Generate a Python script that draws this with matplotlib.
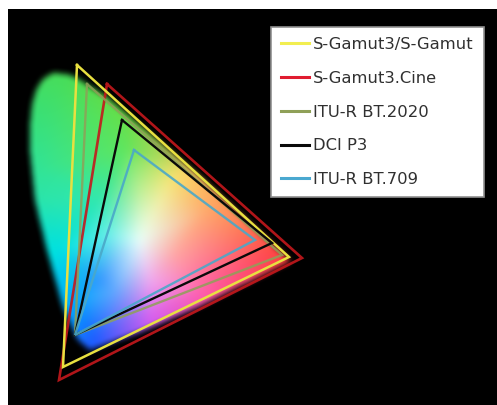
import numpy as np
import matplotlib
matplotlib.use('Agg')
import matplotlib.pyplot as plt
import matplotlib.tri as mtri
from matplotlib.path import Path

labels = ['S-Gamut3/S-Gamut', 'S-Gamut3.Cine', 'ITU-R BT.2020', 'DCI P3', 'ITU-R BT.709']
colors = ['#e8e040', '#c4181c', '#8fa058', '#0a0a0a', '#4aa8c8']
legend_colors = ['#f2ee50', '#e01c30', '#8fa058', '#0a0a0a', '#4aa8d0']
tri_x = [[77, 289, 63], [107, 302, 59], [87, 282, 75], [122, 272, 75], [134, 255, 75]]
tri_y = [[65, 257, 367], [84, 258, 380], [84, 255, 335], [120, 243, 335], [150, 240, 335]]
widths = [1.8, 1.9, 1.7, 1.7, 1.7]
alphas = [1, 0.9, 0.85, 1, 0.9]

# spectral locus outline
locus_x = [90, 78, 63, 47, 35, 30, 30, 32, 36, 43, 53, 67, 77, 107, 200, 291, 200, 140]
locus_y = [350, 340, 307, 250, 200, 150, 125, 105, 90, 79, 73, 74, 78, 97, 177, 261, 306, 332]

# colour anchors, the outer ones lie past the locus
anchor_x = [20, 20, 20, 40, 50, 60, 100, 160, 230, 315, 300, 200, 130, 80,
            60, 125, 170, 205, 275, 205, 150, 95, 75, 60, 40, 100,
            140, 115, 175, 110, 140, 150, 100]
anchor_y = [60, 130, 200, 260, 320, 360, 365, 345, 320, 270, 240, 160, 100, 60,
            85, 150, 180, 212, 252, 295, 318, 340, 300, 250, 170, 200,
            240, 290, 255, 235, 190, 280, 280]
anchor_rgb = [(70, 220, 90), (50, 225, 130), (40, 228, 170), (0, 225, 225), (0, 190, 255),
              (20, 110, 255), (40, 90, 255), (200, 90, 240), (255, 80, 150), (255, 50, 50),
              (255, 60, 50), (255, 200, 80), (110, 220, 60), (70, 220, 80),
              (70, 222, 95), (95, 230, 95), (245, 230, 120), (255, 170, 110), (255, 70, 70),
              (255, 90, 170), (215, 95, 240), (30, 90, 255), (0, 170, 255), (0, 225, 225),
              (50, 228, 150), (50, 232, 175),
              (235, 255, 250), (100, 170, 255), (255, 165, 165), (110, 240, 235),
              (190, 240, 150), (240, 170, 240), (50, 150, 255)]


def smooth(a, passes=2, size=5):
    kernel = np.ones(size) / size
    for _ in range(passes):
        a = np.apply_along_axis(lambda r: np.convolve(r, kernel, mode='same'), 0, a)
        a = np.apply_along_axis(lambda r: np.convolve(r, kernel, mode='same'), 1, a)
    return a


def locus_image(width, height):
    xx, yy = np.meshgrid(np.arange(8, width) + 0.5, np.arange(9, height) + 0.5)
    tri = mtri.Triangulation(np.array(anchor_x, float), np.array(anchor_y, float))
    rgb = np.zeros(xx.shape + (3,))
    for c in range(3):
        values = np.array([v[c] for v in anchor_rgb], float) / 255.0
        interp = mtri.LinearTriInterpolator(tri, values)
        rgb[..., c] = smooth(np.ma.filled(interp(xx, yy), 0.0), passes=3, size=9)

    pts = np.column_stack([xx.ravel(), yy.ravel()])
    mask = Path(np.column_stack([locus_x, locus_y])).contains_points(pts).reshape(xx.shape).astype(float)
    # soft edge, the picture is blurry there
    mask = smooth(mask, passes=2, size=7)
    return np.clip(rgb, 0, 1) * mask[..., None]


fig = plt.figure(figsize=(4.97, 4.05), dpi=100, facecolor='white')
ax = fig.add_axes([8 / 497, 0, 489 / 497, 396 / 405], facecolor='black')

ax.imshow(locus_image(497, 405), extent=(8, 497, 405, 9), interpolation='bilinear', zorder=1)

order = [1, 2, 0, 3, 4]
for i in order:
    ax.plot(tri_x[i] + tri_x[i][:1], tri_y[i] + tri_y[i][:1], color=colors[i], lw=widths[i],
            alpha=alphas[i], solid_joinstyle='miter', zorder=3 + order.index(i))

handles = [plt.Line2D([], [], color=c, lw=2.2) for c in legend_colors]
leg = ax.legend(handles, labels, loc='upper left', bbox_to_anchor=(271, 27), bbox_transform=ax.transData,
                frameon=True, fancybox=False, framealpha=1, facecolor='white', edgecolor='#909090',
                prop={'family': 'DejaVu Sans', 'size': 11.8}, labelcolor='#303030',
                handlelength=1.72, handletextpad=0.25, labelspacing=1.15, borderpad=0.6, borderaxespad=0)
leg.get_frame().set_linewidth(1.2)
leg.set_zorder(10)

ax.set_xlim(8, 497)
ax.set_ylim(405, 9)
ax.axis('off')
ax.add_patch(plt.Rectangle((8, 9), 489, 396, color='black', zorder=0))
fig.savefig('out.png', dpi=100)
